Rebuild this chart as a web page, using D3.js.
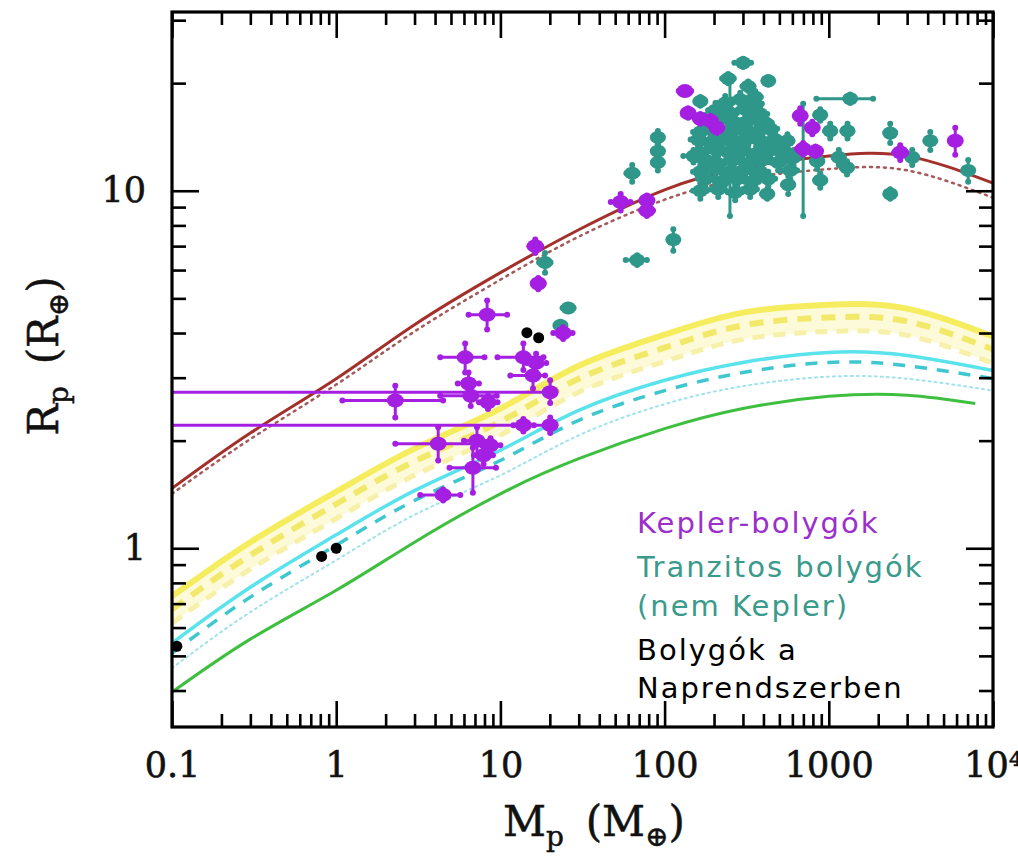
<!DOCTYPE html>
<html>
<head>
<meta charset="utf-8">
<script src="https://cdn.jsdelivr.net/npm/d3@7"></script>
<style>
  body { margin: 0; background: #fff; }
  svg { display: block; }
</style>
</head>
<body>
<svg id="chart" width="1018" height="859"></svg>
<script>
// ---- Axis ticks ----
const xMajorTicks = [0.1, 1, 10, 100, 1000, 10000];
const xTickLabels = ["0.1", "1", "10", "100", "1000", "10⁴"];
const yMajorTicks = [1, 10];
const yTickLabels = ["1", "10"];
const yMinorTicks = [0.4, 0.5, 0.6, 0.7, 0.8, 0.9, 2, 3, 4, 5, 6, 7, 8, 9, 20, 30];

// ---- Model mass–radius curves (mass in Earth masses, radius in Earth radii) ----
const modelMass = [0.1, 0.3, 1, 3, 10, 30, 100, 300, 1000, 3000, 10000];
const gasGiantSolid  = [1.47, 2.10, 2.98, 4.22, 5.90, 7.78, 10.06, 11.6, 12.5, 12.5, 10.5];
const gasGiantDotted = [1.42, 2.02, 2.87, 4.04, 5.64, 7.44, 9.44, 10.8, 11.5, 11.4, 9.56];
const iceSolid  = [0.734, 1.04, 1.44, 1.90, 2.46, 3.24, 3.96, 4.56, 4.80, 4.68, 3.91];
const iceDashed = [0.675, 0.956, 1.33, 1.75, 2.26, 2.98, 3.64, 4.20, 4.42, 4.31, 3.60];
const iceDotted = [0.617, 0.874, 1.21, 1.60, 2.07, 2.73, 3.33, 3.84, 4.04, 3.94, 3.29];
const rockSolid  = [0.543, 0.778, 1.09, 1.45, 1.88, 2.43, 2.95, 3.31, 3.53, 3.46, 3.14];
const rockDashed = [0.509, 0.730, 1.02, 1.36, 1.76, 2.28, 2.76, 3.10, 3.31, 3.24, 2.98];
const rockDotted = [0.462, 0.663, 0.926, 1.24, 1.60, 2.07, 2.53, 2.84, 3.02, 2.98, 2.76];
const ironMass   = [0.1, 0.3, 1, 3, 10, 30, 100, 300, 1000, 3000, 7800];
const ironRadius = [0.396, 0.557, 0.763, 1.04, 1.42, 1.78, 2.16, 2.46, 2.66, 2.68, 2.54];

// ---- Kepler planets: [mass, massLow, massHigh, radius, radiusLow, radiusHigh] ----
const keplerPlanets = [
  [8.3, 6.4, 11.0, 4.5, 4.09, 4.93],
  [6.1, 4.3, 8.0, 3.42, 3.1, 3.74],
  [13.8, 9.6, 18.3, 3.42, 3.15, 3.74],
  [15.8, 11.5, 18.7, 3.04, 2.8, 3.3],
  [16.5, 14.5, 19.0, 3.3, 3.1, 3.5],
  [6.4, 5.5, 7.4, 2.89, 2.64, 3.1],
  [6.6, 4.3, 9.5, 2.67, 2.5, 2.85],
  [8.4, 7.4, 9.6, 2.56, 2.45, 2.67],
  [20.1, 0.01, 20.6, 2.73, 2.55, 2.95],
  [20.1, 0.01, 20.6, 2.21, 2.1, 2.32],
  [13.8, 12.0, 16.0, 2.21, 2.12, 2.3],
  [2.29, 1.09, 4.48, 2.59, 2.32, 2.85],
  [4.18, 2.29, 8.3, 1.96, 1.76, 2.18],
  [7.2, 6.0, 8.7, 2.0, 1.82, 2.18],
  [8.7, 7.7, 10.0, 1.94, 1.85, 2.03],
  [7.9, 6.9, 9.0, 1.82, 1.72, 1.92],
  [6.8, 4.9, 9.4, 1.68, 1.43, 1.91],
  [4.48, 3.25, 5.7, 1.41, 1.36, 1.46],
  [16.3, 15.0, 17.7, 7.0, 6.7, 7.3],
  [17.0, 15.8, 18.3, 5.5, 5.3, 5.7],
  [24.1, 21.0, 27.5, 4.0, 3.85, 4.15],
  [54, 47, 62, 9.3, 8.8, 9.8],
  [78, 73, 84, 9.4, 9.1, 9.7],
  [78, 72, 85, 8.8, 8.5, 9.1],
  [133, 122, 145, 19.0, 18.7, 19.3],
  [139, 130, 150, 16.5, 16.0, 17.0],
  [165, 155, 176, 15.9, 15.4, 16.4],
  [190, 178, 202, 15.7, 15.2, 16.2],
  [208, 195, 222, 15.0, 14.5, 15.5],
  [670, 630, 712, 16.2, 15.4, 17.0],
  [793, 745, 843, 15.0, 14.4, 15.6],
  [698, 640, 760, 13.1, 12.6, 13.6],
  [830, 780, 880, 12.9, 12.5, 13.3],
  [2723, 2500, 2960, 12.8, 12.2, 13.4],
  [5890, 5500, 6300, 13.8, 12.6, 15.0]
];

// ---- Other transiting planets: [mass, massError, radius, radiusError] ----
const transitingPlanets = [
  [234, 25, 17.6, 0.8], [289, 30, 18.0, 0.8], [356, 35, 17.5, 0.9],
  [204, 20, 16.8, 0.8], [251, 25, 16.5, 0.8], [310, 30, 16.9, 0.8], [382, 40, 16.4, 0.8],
  [177, 18, 15.6, 0.7], [218, 22, 15.9, 0.7], [269, 28, 15.5, 0.8], [332, 35, 15.8, 0.8], [410, 40, 15.5, 0.8],
  [165, 16, 14.6, 0.7], [196, 20, 14.9, 0.7], [241, 25, 14.5, 0.7], [297, 30, 14.8, 0.7], [365, 38, 14.6, 0.7], [440, 45, 14.9, 0.7],
  [160, 16, 13.9, 0.6], [190, 19, 13.6, 0.6], [224, 22, 13.9, 0.6], [269, 27, 13.7, 0.6], [323, 32, 14.0, 0.6], [393, 40, 13.7, 0.6], [472, 48, 13.9, 0.7],
  [165, 16, 12.8, 0.6], [201, 20, 13.1, 0.6], [244, 25, 12.8, 0.6], [297, 30, 13.0, 0.6], [361, 36, 12.7, 0.6], [440, 45, 13.0, 0.6], [543, 55, 12.8, 0.6],
  [177, 18, 12.2, 0.6], [212, 21, 11.9, 0.6], [262, 26, 12.2, 0.6], [323, 32, 11.9, 0.6], [393, 40, 12.2, 0.6], [491, 50, 12.0, 0.6],
  [165, 16, 11.3, 0.5], [204, 20, 11.5, 0.5], [251, 25, 11.3, 0.5], [310, 31, 11.5, 0.5], [382, 38, 11.3, 0.5], [582, 60, 11.4, 0.6],
  [177, 18, 10.8, 0.5], [224, 22, 10.6, 0.5], [277, 28, 10.8, 0.5], [341, 34, 10.6, 0.5], [428, 43, 10.8, 0.5],
  [165, 16, 10.0, 0.5], [212, 21, 10.1, 0.5], [269, 27, 9.9, 0.5], [332, 33, 10.1, 0.5],
  [301, 35, 22.8, 0.6], [244, 20, 20.6, 0.6], [250, 15, 14.5, 6.0], [323, 25, 19.6, 0.6], [356, 30, 18.3, 0.7],
  [428, 25, 20.3, 0.5], [1350, 510, 18.1, 0.5], [698, 40, 13.0, 4.5],
  [887, 60, 16.3, 0.6], [1020, 70, 14.7, 0.7], [1300, 90, 14.7, 0.7], [1150, 80, 12.4, 0.6],
  [850, 60, 12.1, 0.6], [887, 60, 10.7, 0.5], [1290, 90, 11.6, 0.5], [560, 40, 13.8, 0.6],
  [506, 40, 12.9, 0.6], [610, 45, 12.4, 0.6], [566, 40, 10.4, 0.6], [422, 30, 9.8, 0.3],
  [2366, 150, 14.5, 0.9], [3220, 200, 12.4, 0.6], [4150, 250, 13.8, 0.8], [7060, 400, 11.4, 0.8],
  [2366, 100, 9.8, 0.3], [63.5, 5, 11.2, 0.6], [91, 6, 14.1, 0.6], [91, 6, 12.9, 0.6],
  [91, 6, 12.0, 0.6], [113, 6, 7.3, 0.5], [68, 10, 6.4, 0.2], [150, 20, 12.5, 0.5],
  [18.7, 1.5, 6.3, 0.4], [25.9, 2, 4.7, 0.1], [23.2, 1, 4.2, 0.1], [165, 10, 17.8, 0.5]
];

// ---- Solar System planets: [mass, radius] (Mars, Venus, Earth, Uranus, Neptune) ----
const solarSystem = [[0.107, 0.532], [0.815, 0.949], [1.0, 1.0], [14.5, 4.01], [17.1, 3.88]];

// ---- Legend ----
const legendLines = [
  { text: "Kepler-bolygók", color: "#9b2fcb" },
  { text: "Tranzitos bolygók", color: "#3a9a8b" },
  { text: "(nem Kepler)", color: "#3a9a8b" },
  { text: "Bolygók a", color: "#000000" },
  { text: "Naprendszerben", color: "#000000" }
];

// ---- Layout ----
const plot = { left: 172, right: 993, top: 12, bottom: 727 };
const svg = d3.select("#chart");

const x = d3.scaleLog().domain([0.1, 1e4]).range([plot.left, plot.right]);
const y = d3.scaleLog().domain([Math.pow(10, -0.5), Math.pow(10, 1.5)]).range([plot.bottom, plot.top]);

svg.append("defs").append("clipPath").attr("id", "plotClip")
  .append("rect")
  .attr("x", plot.left).attr("y", plot.top)
  .attr("width", plot.right - plot.left).attr("height", plot.bottom - plot.top);

const inner = svg.append("g").attr("clip-path", "url(#plotClip)");

// ---- Model curves ----
const line = d3.line()
  .x(d => x(d[0]))
  .y(d => y(d[1]))
  .curve(d3.curveNatural);
const area = d3.area()
  .x(d => x(d[0]))
  .y0(d => y(d[2]))
  .y1(d => y(d[1]))
  .curve(d3.curveNatural);

const pairs = (ms, rs) => ms.map((m, i) => [m, rs[i]]);

inner.append("path")
  .datum(modelMass.map((m, i) => [m, iceSolid[i], iceDotted[i]]))
  .attr("d", area).attr("fill", "#fcf9cf").attr("opacity", 0.8);

const curves = [
  { data: pairs(modelMass, iceDotted), stroke: "#f6f0a8", width: 5, dash: "12,9" },
  { data: pairs(modelMass, iceDashed), stroke: "#f2e96a", width: 6, dash: "14,10" },
  { data: pairs(modelMass, iceSolid), stroke: "#f5ed5e", width: 6, dash: null },
  { data: pairs(modelMass, rockDotted), stroke: "#9fe3ea", width: 2, dash: "2,4" },
  { data: pairs(modelMass, rockDashed), stroke: "#3fc7cf", width: 3.5, dash: "12,10" },
  { data: pairs(modelMass, rockSolid), stroke: "#5ae3ec", width: 3.5, dash: null },
  { data: pairs(ironMass, ironRadius), stroke: "#3fbf3f", width: 3, dash: null },
  { data: pairs(modelMass, gasGiantDotted), stroke: "#a45a5a", width: 2.5, dash: "2,5" },
  { data: pairs(modelMass, gasGiantSolid), stroke: "#a3302b", width: 3, dash: null }
];

curves.forEach(c => {
  inner.append("path")
    .datum(c.data)
    .attr("d", line)
    .attr("fill", "none")
    .attr("stroke", c.stroke)
    .attr("stroke-width", c.width)
    .attr("stroke-dasharray", c.dash)
    .attr("stroke-linecap", c.dash && c.dash.startsWith("2,") ? "round" : "butt");
});

// ---- Error-bar points ----
function drawPoints(rows, color, markerR) {
  const g = inner.append("g");
  rows.forEach(p => {
    const [m, mLo, mHi, r, rLo, rHi] = p;
    const cx = x(m), cy = y(r);
    g.append("line")
      .attr("x1", x(mLo)).attr("x2", x(mHi)).attr("y1", cy).attr("y2", cy)
      .attr("stroke", color).attr("stroke-width", 3);
    g.append("line")
      .attr("x1", cx).attr("x2", cx).attr("y1", y(rLo)).attr("y2", y(rHi))
      .attr("stroke", color).attr("stroke-width", 3);
    [[x(mLo), cy], [x(mHi), cy], [cx, y(rLo)], [cx, y(rHi)]].forEach(([px, py]) => {
      g.append("circle").attr("cx", px).attr("cy", py).attr("r", 3).attr("fill", color);
    });
    g.append("ellipse")
      .attr("cx", cx).attr("cy", cy)
      .attr("rx", markerR + 1.5).attr("ry", markerR)
      .attr("fill", color);
  });
}

drawPoints(transitingPlanets.map(([m, me, r, re]) => [m, m - me, m + me, r, r - re, r + re]), "#2e978a", 6.5);
drawPoints(keplerPlanets, "#a51fe3", 7);

inner.append("g").selectAll("circle")
  .data(solarSystem)
  .join("circle")
  .attr("cx", d => x(d[0]))
  .attr("cy", d => y(d[1]))
  .attr("r", 5.5)
  .attr("fill", "#000");

// ---- Axes (ticks point inward on all four sides) ----
const xMinorTicks = [];
[0.1, 1, 10, 100, 1000].forEach(dec => {
  for (let k = 2; k <= 9; k++) xMinorTicks.push(dec * k);
});

const tickFont = "'DejaVu Serif', serif";

function styleAxis(g) {
  g.select(".domain").remove();
  g.selectAll(".tick line").attr("stroke", "#000").attr("stroke-width", 2.6);
  g.selectAll(".tick text")
    .attr("font-family", tickFont)
    .attr("font-size", 35)
    .attr("fill", "#111")
    .attr("stroke", "#111")
    .attr("stroke-width", 0.6);
}

svg.append("g").attr("transform", `translate(0,${plot.bottom})`)
  .call(d3.axisBottom(x).tickValues(xMajorTicks).tickFormat((d, i) => xTickLabels[i]).tickSize(-26).tickPadding(25))
  .call(styleAxis);
svg.append("g").attr("transform", `translate(0,${plot.bottom})`)
  .call(d3.axisBottom(x).tickValues(xMinorTicks).tickFormat("").tickSize(-13))
  .call(styleAxis);
svg.append("g").attr("transform", `translate(0,${plot.top})`)
  .call(d3.axisTop(x).tickValues(xMajorTicks).tickFormat("").tickSize(-26))
  .call(styleAxis);
svg.append("g").attr("transform", `translate(0,${plot.top})`)
  .call(d3.axisTop(x).tickValues(xMinorTicks).tickFormat("").tickSize(-13))
  .call(styleAxis);

svg.append("g").attr("transform", `translate(${plot.left},0)`)
  .call(d3.axisLeft(y).tickValues(yMajorTicks).tickFormat((d, i) => yTickLabels[i]).tickSize(-27).tickPadding(26))
  .call(styleAxis);
svg.append("g").attr("transform", `translate(${plot.left},0)`)
  .call(d3.axisLeft(y).tickValues(yMinorTicks).tickFormat("").tickSize(-14))
  .call(styleAxis);
svg.append("g").attr("transform", `translate(${plot.right},0)`)
  .call(d3.axisRight(y).tickValues(yMajorTicks).tickFormat("").tickSize(-27))
  .call(styleAxis);
svg.append("g").attr("transform", `translate(${plot.right},0)`)
  .call(d3.axisRight(y).tickValues(yMinorTicks).tickFormat("").tickSize(-14))
  .call(styleAxis);

// Plot frame
svg.append("rect")
  .attr("x", plot.left).attr("y", plot.top)
  .attr("width", plot.right - plot.left).attr("height", plot.bottom - plot.top)
  .attr("fill", "none").attr("stroke", "#000").attr("stroke-width", 3.2);

// ---- Axis titles ----
function axisTitle(g, main) {
  const t = g.append("text")
    .attr("font-family", tickFont)
    .attr("font-size", 42)
    .attr("fill", "#111")
    .attr("stroke", "#111").attr("stroke-width", 0.5)
    .attr("text-anchor", "middle");
  t.append("tspan").text(main);
  t.append("tspan").attr("font-size", 28).attr("dy", 10).text("p");
  t.append("tspan").attr("dy", -10).text("\u2009 (" + main);
  t.append("tspan").attr("font-size", 28).attr("dy", 10).text("⊕");
  t.append("tspan").attr("dy", -10).text(")");
  return t;
}

axisTitle(svg.append("g").attr("transform", "translate(594,836)"), "M");
axisTitle(svg.append("g").attr("transform", "translate(58,356) rotate(-90)"), "R");

// ---- Legend ----
const legendBaselines = [533, 577, 616, 660, 698];
svg.append("g").selectAll("text")
  .data(legendLines)
  .join("text")
  .attr("x", 637)
  .attr("y", (d, i) => legendBaselines[i])
  .attr("font-family", "'DejaVu Sans', sans-serif")
  .attr("font-size", 29)
  .attr("letter-spacing", 2)
  .attr("fill", d => d.color)
  .text(d => d.text);
</script>
</body>
</html>
